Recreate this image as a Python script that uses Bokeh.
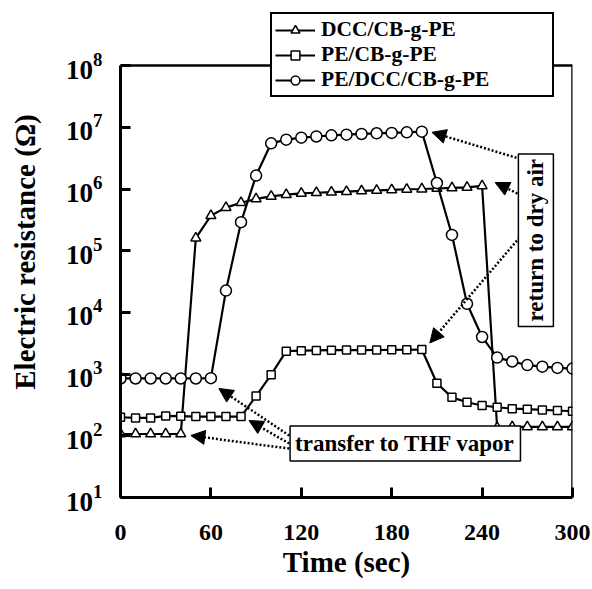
from bokeh.plotting import figure
from bokeh.models import (Legend, LegendItem, Label, Arrow, NormalHead,
                          FixedTicker, LogTickFormatter, BoxAnnotation)
from bokeh.embed import file_html
from bokeh.resources import INLINE

# ---- data ----
time_s = [0, 10, 20, 30, 40, 50, 60, 70, 80, 90, 100, 110, 120, 130, 140, 150,
          160, 170, 180, 190, 200, 210, 220, 230, 240, 250, 260, 270, 280, 290, 300]

dcc_cb = [107, 107, 107, 107, 107, 1.6e5, 3.7e5, 5.0e5, 6.0e5, 6.9e5, 7.6e5,
          8.1e5, 8.5e5, 8.7e5, 8.9e5, 9.1e5, 9.3e5, 9.5e5, 9.7e5, 9.9e5, 1.0e6,
          1.02e6, 1.04e6, 1.06e6, 1.12e6, 135, 140, 140, 140, 140, 140]

pe_cb = [200, 195, 195, 210, 208, 205, 205, 205, 205, 440, 980, 2350, 2400,
         2420, 2440, 2450, 2450, 2460, 2470, 2480, 2500, 710, 420, 350, 310,
         290, 275, 270, 263, 257, 250]

pe_dcc_cb = [850, 850, 850, 850, 850, 850, 860, 2.26e4, 2.9e5, 1.65e6, 5.5e6,
             6.3e6, 6.8e6, 7.1e6, 7.4e6, 7.6e6, 7.8e6, 8.0e6, 8.1e6, 8.3e6,
             8.5e6, 1.25e6, 1.8e5, 1.38e4, 4.0e3, 1.85e3, 1.6e3, 1.4e3, 1.32e3,
             1.26e3, 1.23e3]

series_labels = ["DCC/CB-g-PE", "PE/CB-g-PE", "PE/DCC/CB-g-PE"]
x_ticks = [0, 60, 120, 180, 240, 300]
y_ticks = [1e1, 1e2, 1e3, 1e4, 1e5, 1e6, 1e7, 1e8]
x_min, x_max = 0, 300
y_min, y_max = 1e1, 1e8

FONT = "Liberation Serif"

# frame extended above 1e8 so the legend (which straddles the top border) is not clipped
p = figure(width=592, height=589, x_range=(x_min, x_max), y_range=(y_min, 10 ** 8.958),
           y_axis_type="log", output_backend="svg", toolbar_location=None,
           min_border_left=120, min_border_right=20, min_border_top=6,
           min_border_bottom=92)

p.xgrid.visible = False
p.ygrid.visible = False
p.outline_line_color = None
p.background_fill_color = "white"
p.border_fill_color = "white"

# plot box (frame drawn from 10^1 to 10^8)
p.add_layout(BoxAnnotation(left=x_min, right=x_max, bottom=y_min, top=y_max,
                           fill_color=None, fill_alpha=0, line_color="black",
                           line_alpha=1.0, line_width=2.5))

# series
r_tri_l = p.line(time_s, dcc_cb, line_color="black", line_width=2.2)
r_tri_m = p.scatter(time_s, dcc_cb, marker="triangle", size=10,
                    fill_color="white", line_color="black", line_width=1.5)
r_sq_l = p.line(time_s, pe_cb, line_color="black", line_width=2.2)
r_sq_m = p.scatter(time_s, pe_cb, marker="square", size=8,
                   fill_color="white", line_color="black", line_width=1.5)
r_ci_l = p.line(time_s, pe_dcc_cb, line_color="black", line_width=2.2)
r_ci_m = p.scatter(time_s, pe_dcc_cb, marker="circle", size=11,
                   fill_color="white", line_color="black", line_width=1.5)

# axes
for ax in (p.xaxis[0], p.yaxis[0]):
    ax.axis_line_width = 3
    ax.major_tick_line_width = 3
    ax.major_tick_in = 10
    ax.major_tick_out = 0
    ax.minor_tick_line_color = None
    ax.major_label_text_font = FONT
    ax.major_label_text_font_style = "bold"
    ax.major_label_text_font_size = "24px"
    ax.major_label_text_color = "black"
    ax.axis_label_text_font = FONT
    ax.axis_label_text_font_style = "bold"
    ax.axis_label_text_font_size = "29px"
    ax.axis_label_text_color = "black"

p.xaxis.ticker = FixedTicker(ticks=x_ticks)
p.xaxis.major_label_standoff = 27
p.xaxis.axis_label_standoff = 3
p.xaxis.axis_label = "Time (sec)"

p.yaxis.ticker = FixedTicker(ticks=y_ticks)
p.yaxis.formatter = LogTickFormatter()
p.yaxis.bounds = (y_min, y_max)
p.yaxis.major_label_text_font_size = "27px"
p.yaxis.major_label_standoff = 18
p.yaxis.axis_label_standoff = 22
p.yaxis.axis_label = "Electric resistance (\u03a9)"

# legend
legend = Legend(items=[
    LegendItem(label=series_labels[0], renderers=[r_tri_l, r_tri_m]),
    LegendItem(label=series_labels[1], renderers=[r_sq_l, r_sq_m]),
    LegendItem(label=series_labels[2], renderers=[r_ci_l, r_ci_m]),
], location=(150, 400), margin=0, padding=3, spacing=0,
   glyph_width=40, glyph_height=22, label_height=22, label_width=228,
   label_standoff=6, border_line_color="black", border_line_alpha=1.0,
   border_line_width=2,
   background_fill_color="white", background_fill_alpha=1.0,
   label_text_font=FONT, label_text_font_style="bold",
   label_text_font_size="21.5px", label_text_color="black")
p.add_layout(legend, "center")

# arrows
def arrow(xs, ys, xe, ye):
    p.add_layout(Arrow(end=NormalHead(size=14, fill_color="black", line_color="black"),
                       x_start=xs, y_start=ys, x_end=xe, y_end=ye,
                       line_dash="2 2", line_width=2.5, line_color="black"))

# transfer to THF vapor
arrow(112, 101, 65.3, 585)
arrow(112, 75, 85.3, 177)
arrow(112, 62, 46.7, 101)
# return to dry air
arrow(273, 2.7e6, 206.7, 8.3e6)
arrow(273, 6.5e5, 248.7, 1.27e6)
arrow(270, 2.3e5, 205.3, 3.2e3)

lab1 = Label(x=189, y=75, text="transfer to THF vapor", text_align="center",
             text_baseline="middle", text_font=FONT, text_font_style="bold",
             text_font_size="23px", text_color="black",
             border_line_color="black", border_line_width=1.5,
             background_fill_color="white", padding=5)
p.add_layout(lab1)

lab2 = Label(x=275.7, y=1.48e5, text="return to dry air", text_align="center",
             text_baseline="middle", angle=90, angle_units="deg",
             text_font=FONT, text_font_style="bold",
             text_font_size="23px", text_color="black",
             border_line_color="black", border_line_width=1.5,
             background_fill_color="white", padding=5)
p.add_layout(lab2)

open("out.html", "w").write(file_html(p, INLINE))
